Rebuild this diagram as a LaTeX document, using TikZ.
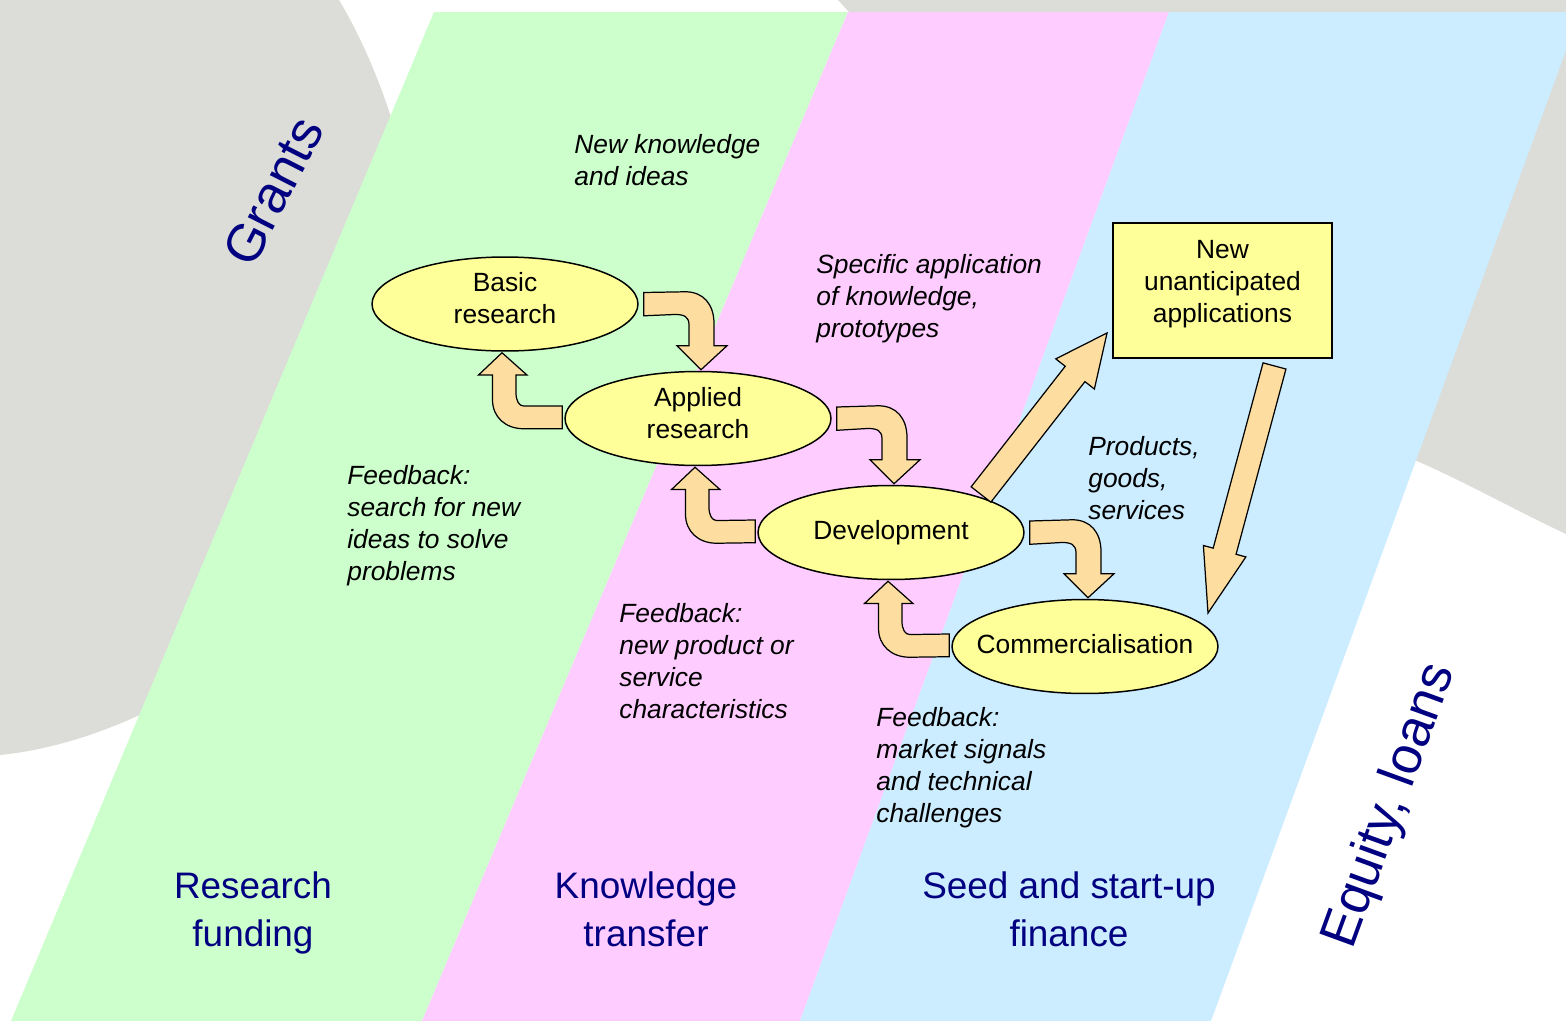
\documentclass[tikz,border=0pt]{standalone}
\usepackage{fontspec}
\setmainfont{Liberation Sans}
\usetikzlibrary{calc,shapes.geometric}

\definecolor{fondgris}{RGB}{220,221,216}
\definecolor{bandevert}{RGB}{204,255,204}
\definecolor{banderose}{RGB}{255,204,255}
\definecolor{bandebleu}{RGB}{204,236,255}
\definecolor{ovaljaune}{RGB}{255,255,153}
\definecolor{flecheorange}{RGB}{253,221,160}
\definecolor{titrebleu}{RGB}{0,0,128}

\tikzset{
  oval/.style={ellipse, draw=black, line width=0.85pt, fill=ovaljaune,
    minimum width=5.32cm, minimum height=1.88cm, inner sep=-0.3cm,
    align=center, text depth=0.1cm, font=\fontsize{15}{18.2}\selectfont},
  appbox/.style={rectangle, draw=black, line width=1.1pt, fill=ovaljaune,
    minimum width=4.38cm, minimum height=2.7cm, inner sep=0pt,
    align=center, text depth=0.35cm, font=\fontsize{15}{18.2}\selectfont},
  note/.style={anchor=west, align=left, inner sep=0pt,
    font=\itshape\fontsize{15}{18.2}\selectfont},
  bandtitle/.style={align=center, inner sep=0pt, text=titrebleu,
    font=\fontsize{21}{27.5}\selectfont},
  fundlabel/.style={inner sep=0pt, text=titrebleu, font=\fontsize{30}{36}\selectfont},
  bloc/.style={draw=black, line width=0.7pt, fill=flecheorange}
}

% fleche courbe vers le bas (de #1 vers #2)
\newcommand{\fleche}[2]{%
  \coordinate (t) at ($(#1.east)+(5,-11.5)$);
  \coordinate (p) at ($(#2.north)+(3,-1)$);
  \draw[bloc] (t) -- ($(p)+(-15,-78)$) .. controls ($(p)+(2,-77.7)$) and ($(p)+(13,-66)$) .. ($(p)+(13,-46)$)
    -- ($(p)+(13,-24)$) -- ($(p)+(26,-24)$) -- (p) -- ($(p)+(-24,-24)$) -- ($(p)+(-12,-24)$)
    -- ($(p)+(-12,-45)$) .. controls ($(p)+(-12,-53)$) and ($(p)+(-17,-55.3)$) .. ($(p)+(-26,-55.3)$)
    -- ($(t)+(0,23.3)$) -- cycle;}

% fleche de retour vers le haut (de #1 vers #2)
\newcommand{\retour}[2]{%
  \coordinate (r) at ($(#1.west)+(-2,-12.5)$);
  \coordinate (q) at ($(#2.south)+(-3,1)$);
  \draw[bloc] (r) -- ($(r)+(0,22.7)$) -- ($(q)+(21.7,76)$) .. controls ($(q)+(3,76)$) and ($(q)+(-9.5,64)$) .. ($(q)+(-9.5,47)$)
    -- ($(q)+(-9.5,22.3)$) -- ($(q)+(-23.5,22.3)$) -- (q) -- ($(q)+(25,22.3)$) -- ($(q)+(14,22.3)$)
    -- ($(q)+(14,40)$) .. controls ($(q)+(14,48)$) and ($(q)+(17,53.3)$) .. ($(q)+(21.7,53.3)$) -- cycle;}

% fleche droite : base, pointe, demi-largeur, demi-tete, longueur tete
\newcommand{\flechedroite}[5]{%
  \coordinate (hb) at ($(#2)!#5!(#1)$);
  \draw[bloc] ($(#1)!#3!90:(#2)$) -- ($(hb)!#3!90:(#2)$) -- ($(hb)!#4!90:(#2)$) -- (#2)
    -- ($(hb)!#4!-90:(#2)$) -- ($(hb)!#3!-90:(#2)$) -- ($(#1)!#3!-90:(#2)$) -- cycle;}

\begin{document}
\begin{tikzpicture}[x=0.02cm, y=-0.02cm]
\useasboundingbox (0,0) rectangle (1566,1021);
\fill[white] (0,0) rectangle (1566,1021);

% Fond gris
\fill[fondgris] (0,0) -- (339,0) .. controls (360,35) and (380,80) .. (395,130) -- (260,640)
  .. controls (200,690) and (100,745) .. (0,755) -- cycle;
\fill[fondgris] (838,0) -- (1566,0) -- (1566,534) .. controls (1515,510) and (1465,482) .. (1417,461)
  -- (1300,461) -- (1300,12) -- (849,12) -- cycle;

% Bandes
\fill[bandevert] (434,12) -- (848,12) -- (422,1021) -- (11,1021) -- cycle;
\fill[banderose] (848,12) -- (1169,12) -- (800,1021) -- (422,1021) -- cycle;
\fill[bandebleu] (1169,12) -- (1580,12) -- (1211,1021) -- (800,1021) -- cycle;

% Etapes
\node[oval, text depth=0.23cm] (basic) at (505,304) {Basic\\research};
\node[oval, text depth=0.23cm] (applied) at (698,418.5) {Applied\\research};
\node[oval] (development) at (891,532.5) {Development};
\node[oval] (commercial) at (1085,646.5) {Commercialisation};
\node[appbox] (newapp) at (1222.5,290.5) {New\\unanticipated\\applications};

% Fleches
\fleche{basic}{applied}
\fleche{applied}{development}
\fleche{development}{commercial}
\retour{applied}{basic}
\retour{development}{applied}
\retour{commercial}{development}

\coordinate (devout) at ($(development.center)+(90,-38)$);
\coordinate (appin) at ($(newapp.south west)+(-5,-26)$);
\flechedroite{devout}{appin}{0.25cm}{0.49cm}{1.04cm}
\coordinate (appout) at ($(newapp.south)+(52,7)$);
\coordinate (commin) at ($(commercial.center)+(123,-33.5)$);
\flechedroite{appout}{commin}{0.237cm}{0.44cm}{1.28cm}

% Textes
\node[note] (knowledge) at (574,160) {New knowledge\\and ideas};
\node[note] (specific) at (816,299) {Specific application\\of knowledge,\\prototypes};
\node[note] (fbsearch) at (347,526) {Feedback:\\search for new\\ideas to solve\\problems};
\node[note] (fbproduct) at (619,661) {Feedback:\\new product or\\service\\characteristics};
\node[note] (fbmarket) at (876,768) {Feedback:\\market signals\\and technical\\challenges};
\node[note] (products) at (1088,478) {Products,\\goods,\\services};

\node[bandtitle] (research) at (253,913) {Research\\funding};
\node[bandtitle] (transfer) at (646,909) {Knowledge\\transfer};
\node[bandtitle] (seed) at (1069,909) {Seed and start-up\\finance};

\node[fundlabel, rotate=63] (grants) at (273,191) {Grants};
\node[fundlabel, rotate=70] (equity) at (1391,806) {Equity, loans};

\end{tikzpicture}
\end{document}
